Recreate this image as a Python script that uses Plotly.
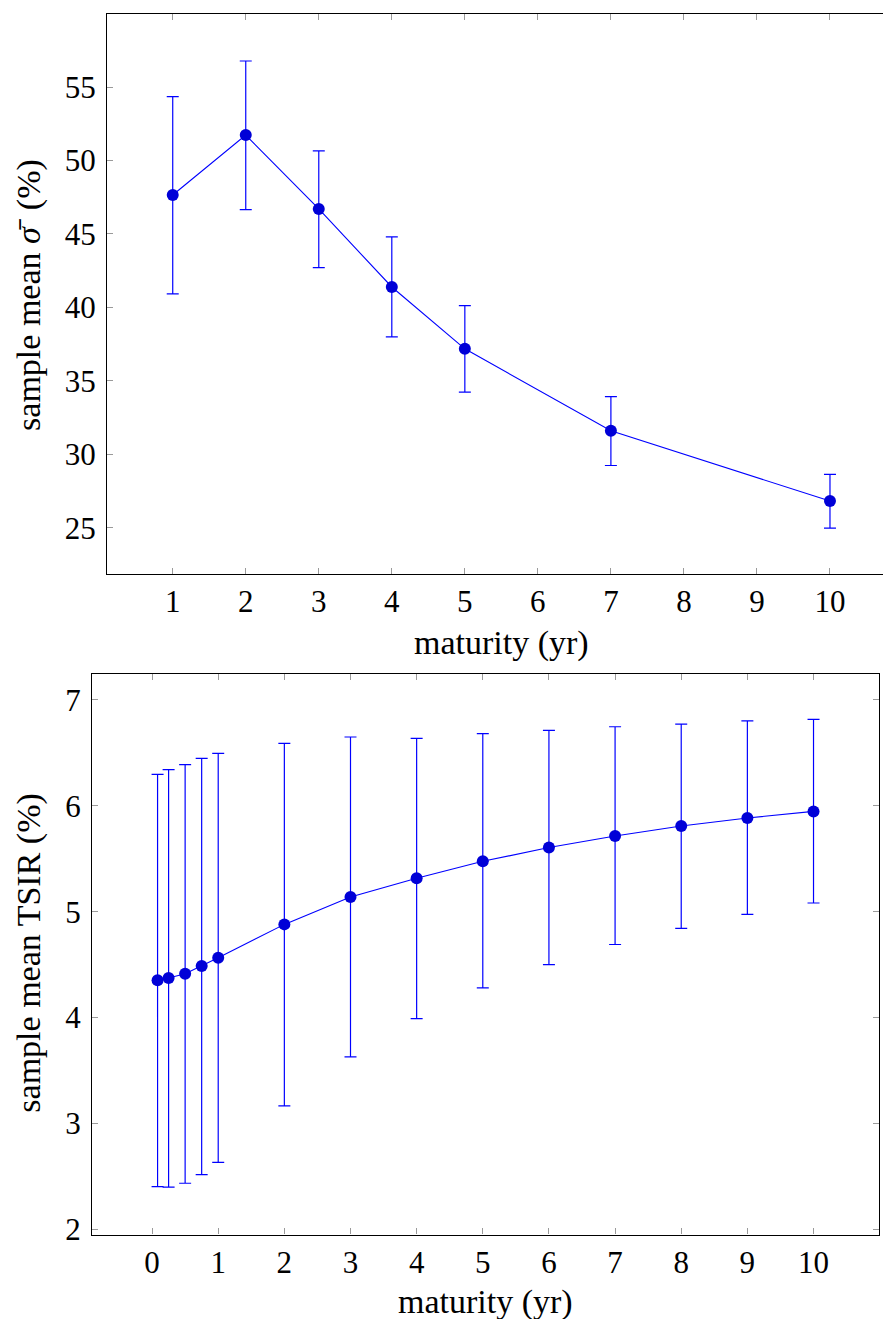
import plotly.graph_objects as go

# ---- top panel: sample mean implied vol ----
mat_top = [1, 2, 3, 4, 5, 7, 10]
sigma_mean = [47.65, 51.73, 46.70, 41.39, 37.18, 31.60, 26.82]
sigma_hi = [54.34, 56.77, 50.65, 44.80, 40.12, 33.93, 28.63]
sigma_lo = [40.92, 46.65, 42.71, 37.99, 34.23, 29.24, 24.98]
top_xticks = [1, 2, 3, 4, 5, 6, 7, 8, 9, 10]
top_yticks = [25, 30, 35, 40, 45, 50, 55]

# ---- bottom panel: sample mean TSIR ----
mat_bot = [1/12, 0.25, 0.5, 0.75, 1, 2, 3, 4, 5, 6, 7, 8, 9, 10]
tsir_mean = [4.352, 4.374, 4.415, 4.488, 4.566, 4.880, 5.139, 5.315, 5.475,
             5.605, 5.714, 5.808, 5.884, 5.946]
tsir_hi = [6.295, 6.34, 6.387, 6.447, 6.493, 6.588, 6.648, 6.635, 6.68,
           6.71, 6.745, 6.77, 6.80, 6.815]
tsir_lo = [2.406, 2.40, 2.437, 2.519, 2.635, 3.167, 3.629, 3.99, 4.28,
           4.50, 4.69, 4.842, 4.975, 5.082]
bot_xticks = [0, 1, 2, 3, 4, 5, 6, 7, 8, 9, 10]
bot_yticks = [2, 3, 4, 5, 6, 7]

W, H = 883, 1319
K = 0.9905  # vertical display factor
FONT = "Liberation Serif"
LINE = "rgb(0,0,255)"
MARK = "rgb(0,0,215)"


def px_x(p):
    return p / W


def px_y(p):
    return (H - p / K) / H


fig = go.Figure()

fig.add_trace(go.Scatter(
    x=mat_top, y=sigma_mean, mode="lines+markers",
    line=dict(color=LINE, width=1.1),
    marker=dict(color=MARK, size=12, line=dict(width=0)),
    error_y=dict(type="data", symmetric=False,
                 array=[h - m for h, m in zip(sigma_hi, sigma_mean)],
                 arrayminus=[m - l for m, l in zip(sigma_mean, sigma_lo)],
                 color=LINE, thickness=1.2, width=6),
    xaxis="x", yaxis="y", showlegend=False, hoverinfo="skip"))

fig.add_trace(go.Scatter(
    x=mat_bot, y=tsir_mean, mode="lines+markers",
    line=dict(color=LINE, width=1.1),
    marker=dict(color=MARK, size=12, line=dict(width=0)),
    error_y=dict(type="data", symmetric=False,
                 array=[h - m for h, m in zip(tsir_hi, tsir_mean)],
                 arrayminus=[m - l for m, l in zip(tsir_mean, tsir_lo)],
                 color=LINE, thickness=1.2, width=6),
    xaxis="x2", yaxis="y2", showlegend=False, hoverinfo="skip"))

tick_common = dict(ticks="inside", ticklen=6, tickwidth=1, tickcolor="#9a9a9a",
                   showgrid=False, zeroline=False, showline=True,
                   linecolor="black", linewidth=1.2,
                   tickfont=dict(family=FONT, size=31, color="black"))

fig.update_layout(
    width=W, height=H,
    margin=dict(l=0, r=0, t=0, b=0),
    paper_bgcolor="white", plot_bgcolor="white",
    xaxis=dict(domain=[px_x(107), 1.0], range=[0.1, 10.726],
               tickvals=top_xticks, mirror="ticks", anchor="y",
               ticklabelstandoff=0, **tick_common),
    yaxis=dict(domain=[px_y(574), px_y(14)], range=[21.87, 59.97],
               tickvals=top_yticks, mirror=False, anchor="x",
               ticklabelstandoff=4, **tick_common),
    xaxis2=dict(domain=[px_x(92), px_x(879)], range=[-0.908, 10.99],
                tickvals=bot_xticks, mirror="ticks", anchor="y2",
                ticklabelstandoff=0, **tick_common),
    yaxis2=dict(domain=[px_y(1235), px_y(674)], range=[1.953, 7.245],
                tickvals=bot_yticks, mirror="ticks", anchor="x2",
                ticklabelstandoff=4, **tick_common),
)

lab_font = dict(family=FONT, size=34, color="black")
fig.add_annotation(text="maturity (yr)", x=px_x(501), y=px_y(643),
                   xref="paper", yref="paper", showarrow=False,
                   xanchor="center", yanchor="middle", font=lab_font)
fig.add_annotation(text="maturity (yr)", x=px_x(485), y=px_y(1302),
                   xref="paper", yref="paper", showarrow=False,
                   xanchor="center", yanchor="middle", font=lab_font)
fig.add_annotation(text="sample mean <i>σ\u0304</i>\u2002(%)", x=px_x(29), y=px_y(295),
                   xref="paper", yref="paper", showarrow=False, textangle=-90,
                   xanchor="center", yanchor="middle", font=lab_font)
fig.add_annotation(text="sample mean TSIR (%)", x=px_x(29), y=px_y(954),
                   xref="paper", yref="paper", showarrow=False, textangle=-90,
                   xanchor="center", yanchor="middle", font=lab_font)

fig.write_html("out.html")
